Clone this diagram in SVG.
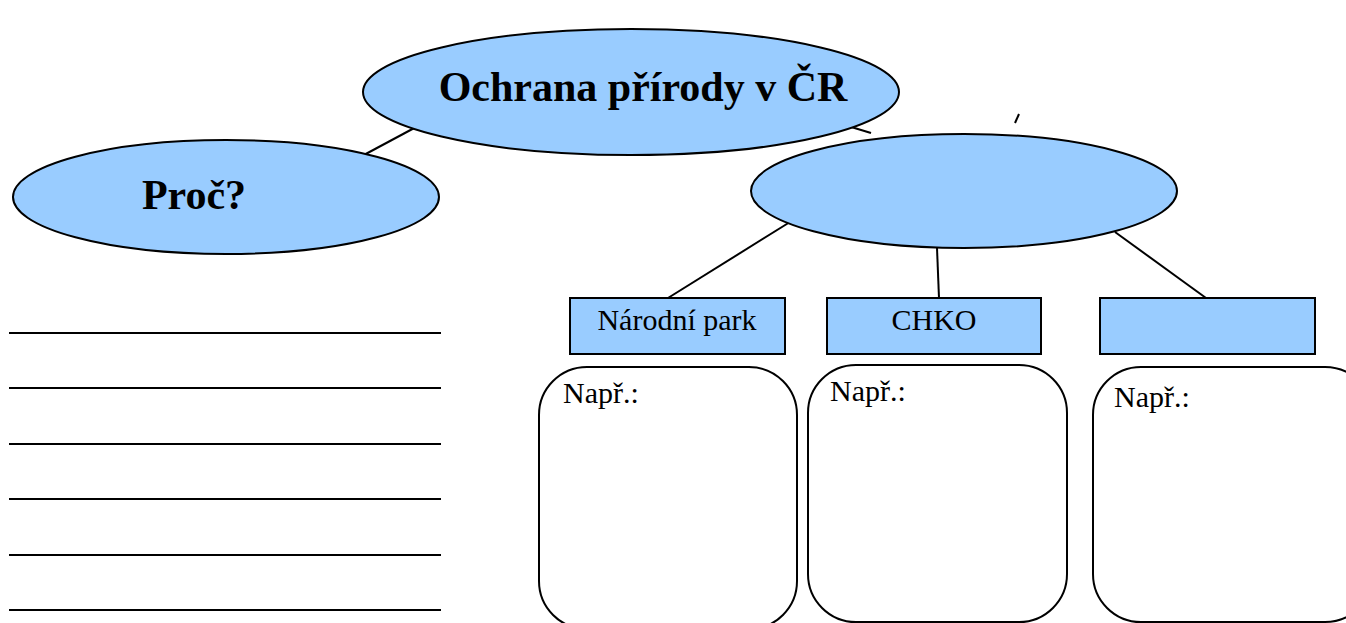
<svg xmlns="http://www.w3.org/2000/svg" width="1346" height="623" viewBox="0 0 1346 623">
<style>
.node{fill:#99CCFF;stroke:#000;stroke-width:2}
.box{fill:#fff;stroke:#000;stroke-width:2}
.conn line{stroke:#000;stroke-width:2}
.rule{stroke:#000;stroke-width:2}
.big{font-family:"Liberation Serif","Times New Roman",serif;font-weight:bold;font-size:42px;fill:#000}
.lbl{font-family:"Liberation Serif","Times New Roman",serif;font-size:30px;fill:#000}
</style>
<rect width="1346" height="623" fill="#fff"/>
<g id="connectors" class="conn">
<line x1="418" y1="126" x2="362" y2="156"/>
<line x1="838" y1="123" x2="871" y2="133"/>
<line x1="1015" y1="123" x2="1019" y2="114"/>
<line x1="790" y1="222" x2="668" y2="298"/>
<line x1="937" y1="248" x2="939" y2="298"/>
<line x1="1115" y1="232" x2="1206" y2="298"/>
</g>
<g id="main">
<ellipse class="node" cx="631" cy="92" rx="268" ry="63"/>
<text class="big" x="643" y="101" text-anchor="middle">Ochrana přírody v ČR</text>
</g>
<g id="proc">
<ellipse class="node" cx="226" cy="197" rx="213" ry="57"/>
<text class="big" x="194" y="209" text-anchor="middle">Proč?</text>
</g>
<g id="type">
<ellipse class="node" cx="964" cy="191" rx="213" ry="57"/>
</g>
<g id="narodni-park">
<rect class="node" x="570" y="298" width="215" height="56"/>
<text class="lbl" x="677" y="330" text-anchor="middle">Národní park</text>
</g>
<g id="chko">
<rect class="node" x="827" y="298" width="214" height="56"/>
<text class="lbl" x="934" y="330" text-anchor="middle">CHKO</text>
</g>
<g id="third">
<rect class="node" x="1100" y="298" width="215" height="56"/>
</g>
<g id="box1">
<rect class="box" x="539" y="367" width="258" height="262" rx="48" ry="48"/>
<text class="lbl" x="563" y="403">Např.:</text>
</g>
<g id="box2">
<rect class="box" x="808" y="365" width="259" height="257" rx="48" ry="48"/>
<text class="lbl" x="830" y="401">Např.:</text>
</g>
<g id="box3">
<rect class="box" x="1093" y="367" width="280" height="255" rx="48" ry="48"/>
<text class="lbl" x="1114" y="407">Např.:</text>
</g>
<g id="answer-lines" class="rule">
<line x1="9" y1="333" x2="441" y2="333"/>
<line x1="9" y1="388" x2="441" y2="388"/>
<line x1="9" y1="444" x2="441" y2="444"/>
<line x1="9" y1="499" x2="441" y2="499"/>
<line x1="9" y1="555" x2="441" y2="555"/>
<line x1="9" y1="610" x2="441" y2="610"/>
</g>
</svg>
